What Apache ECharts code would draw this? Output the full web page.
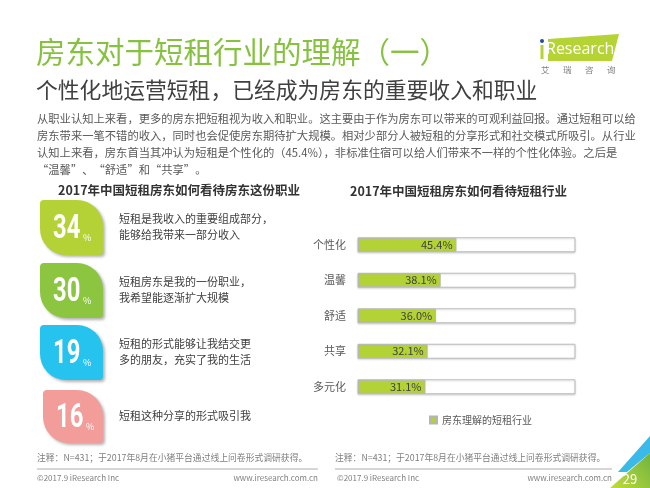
<!DOCTYPE html>
<html>
<head>
<meta charset="utf-8">
<script src="https://cdn.jsdelivr.net/npm/echarts@6/dist/echarts.min.js"></script>
<style>
  html, body { margin: 0; padding: 0; background: #fff; }
  #chart { width: 650px; height: 488px; }
</style>
</head>
<body>
<div id="chart"></div>
<script>
const chart = echarts.init(document.getElementById('chart'));

// 房东这份职业 (左侧卡片)
const careerValues = [34, 30, 19, 16];
const careerTexts = [
  ['短租是我收入的重要组成部分，', '能够给我带来一部分收入'],
  ['短租房东是我的一份职业，', '我希望能逐渐扩大规模'],
  ['短租的形式能够让我结交更', '多的朋友，充实了我的生活'],
  ['短租这种分享的形式吸引我']
];

// 短租行业 (右侧条形图)
const industryNames = ['个性化', '温馨', '舒适', '共享', '多元化'];
const industryValues = [45.4, 38.1, 36.0, 32.1, 31.1];
const seriesName = '房东理解的短租行业';

const bodyLines = [
  '从职业认知上来看，更多的房东把短租视为收入和职业。这主要由于作为房东可以带来的可观利益回报。通过短租可以给',
  '房东带来一笔不错的收入，同时也会促使房东期待扩大规模。相对少部分人被短租的分享形式和社交模式所吸引。从行业',
  '认知上来看，房东首当其冲认为短租是个性化的（45.4%），非标准住宿可以给人们带来不一样的个性化体验。之后是',
  '“温馨”、“舒适”和“共享”。'
];

const cardColors = ['#b4d235', '#8cc540', '#26c3ef', '#f39d9b'];
const FONT = '"Noto Sans CJK SC", "Noto Sans", sans-serif';

function txt(text, x, y, size, color, extra) {
  return Object.assign({
    type: 'text',
    x: x, y: y,
    silent: true,
    style: Object.assign({
      text: text,
      fontSize: size,
      fontFamily: FONT,
      fill: color,
      textAlign: 'left',
      textVerticalAlign: 'middle',
      align: 'left',
      verticalAlign: 'middle'
    }, (extra && extra.style) || {})
  }, extra && extra.el || {});
}

const graphics = [];

// 标题
graphics.push(txt('房东对于短租行业的理解（一）', 36, 52, 29.5, '#86c23f'));
graphics.push(txt('个性化地运营短租，已经成为房东的重要收入和职业', 36, 90, 21.8, '#404040'));
bodyLines.forEach(function (l, i) {
  graphics.push(txt(l, 37, 119 + i * 17, 11.3, '#595959'));
});

// logo
graphics.push({ type: 'polygon', silent: true, shape: { points: [[548, 39], [619, 34], [612, 61], [548, 61]] }, style: { fill: '#b5d334' } });
graphics.push({ type: 'rect', silent: true, shape: { x: 540.5, y: 45, width: 3, height: 14 }, style: { fill: '#b5d334' } });
graphics.push({ type: 'circle', silent: true, shape: { cx: 542, cy: 41, r: 2 }, style: { fill: '#1f4e9c' } });
graphics.push(txt('Research', 546, 49, 16, '#ffffff', { style: { fontFamily: '"Open Sans", sans-serif' } }));
['艾', '瑞', '咨', '询'].forEach(function (c, i) {
  graphics.push(txt(c, 541 + i * 22, 70, 8.5, '#7f7f7f'));
});

// 小标题
graphics.push(txt('2017年中国短租房东如何看待房东这份职业', 58, 190, 12.5, '#333333', { style: { fontWeight: 'bold' } }));
graphics.push(txt('2017年中国短租房东如何看待短租行业', 350, 191, 12.5, '#333333', { style: { fontWeight: 'bold' } }));

// 卡片
const cardTop = [200, 263, 325, 390];
careerValues.forEach(function (v, i) {
  const left = i === 3 ? 43 : 40;
  const w = i === 3 ? 60 : 63;
  const h = i === 3 ? 53 : 55;
  const top = cardTop[i];
  graphics.push({
    type: 'rect', silent: true,
    shape: { x: left, y: top, width: w, height: h, r: [4, 26, 4, 26] },
    style: { fill: cardColors[i], shadowBlur: 3, shadowOffsetX: 2, shadowOffsetY: 2, shadowColor: 'rgba(0,0,0,0.3)' }
  });
  graphics.push(txt(String(v), left + 13, top + h / 2 + 2, 34, '#ffffff', {
    style: { fontFamily: 'Roboto, sans-serif', fontWeight: 'bold' },
    el: { scaleX: 0.7 }
  }));
  graphics.push(txt('%', left + 43, top + h / 2 + 10, 9, '#ffffff'));
  const lines = careerTexts[i];
  const cy = top + h / 2 - 1;
  lines.forEach(function (l, j) {
    graphics.push(txt(l, 119, cy + (j - (lines.length - 1) / 2) * 16, 11, '#404040'));
  });
});

// 注释与页脚
const note = '注释：N=431；于2017年8月在小猪平台通过线上问卷形式调研获得。';
graphics.push(txt(note, 37, 458, 8.8, '#7f7f7f'));
graphics.push(txt(note, 335, 458, 8.8, '#7f7f7f'));
graphics.push({ type: 'line', silent: true, shape: { x1: 37, y1: 469, x2: 318, y2: 469 }, style: { stroke: '#c8c8c8', lineWidth: 1.5 } });
graphics.push({ type: 'line', silent: true, shape: { x1: 335, y1: 469, x2: 612, y2: 469 }, style: { stroke: '#c8c8c8', lineWidth: 1.5 } });
graphics.push(txt('©2017.9 iResearch Inc', 37, 478, 8, '#7f7f7f'));
graphics.push(txt('©2017.9 iResearch Inc', 337, 478, 8, '#7f7f7f'));
graphics.push(txt('www.iresearch.com.cn', 318, 478, 8, '#7f7f7f', { style: { textAlign: 'right', align: 'right' } }));
graphics.push(txt('www.iresearch.com.cn', 612, 478, 8, '#7f7f7f', { style: { textAlign: 'right', align: 'right' } }));

// 右下角装饰
graphics.push({ type: 'polygon', silent: true, shape: { points: [[650, 436], [650, 453], [627, 472], [618, 472]] }, style: { fill: '#3bb9e8' } });
graphics.push({
  type: 'polygon', silent: true,
  shape: { points: [[650, 453], [650, 488], [610, 488]] },
  style: { fill: new echarts.graphic.LinearGradient(1, 0, 0, 1, [{ offset: 0, color: '#6fb43f' }, { offset: 1, color: '#c3dc3a' }]) }
});
graphics.push(txt('29', 630, 479, 13, '#ffffff', { style: { textAlign: 'center', align: 'center' } }));

const option = {
  animation: false,
  textStyle: { fontFamily: FONT },
  graphic: graphics,
  legend: {
    data: [seriesName],
    left: 424,
    top: 410,
    icon: 'rect',
    itemWidth: 7,
    itemHeight: 7,
    itemGap: 4,
    textStyle: { fontSize: 10, color: '#595959', fontFamily: FONT }
  },
  grid: {
    left: 358,
    top: 227,
    width: 217,
    height: 177.5
  },
  xAxis: {
    type: 'value',
    min: 0,
    max: 100,
    show: false
  },
  yAxis: {
    type: 'category',
    data: industryNames,
    inverse: true,
    axisLine: { show: false },
    axisTick: { show: false },
    axisLabel: { color: '#595959', fontSize: 11, margin: 12, fontFamily: FONT }
  },
  series: [{
    name: seriesName,
    type: 'bar',
    data: industryValues,
    barWidth: 14,
    showBackground: true,
    backgroundStyle: {
      color: '#ffffff',
      borderColor: '#bdbdbd',
      borderWidth: 1,
      shadowBlur: 2,
      shadowColor: 'rgba(0,0,0,0.15)',
      shadowOffsetY: 1
    },
    itemStyle: { color: '#b2d235', borderColor: '#b5b5b5', borderWidth: 1 },
    label: {
      show: true,
      position: 'insideRight',
      color: '#404040',
      fontSize: 11,
      fontFamily: FONT,
      distance: 4,
      formatter: function (p) { return p.value.toFixed(1) + '%'; }
    }
  }]
};

chart.setOption(option);
</script>
</body>
</html>
